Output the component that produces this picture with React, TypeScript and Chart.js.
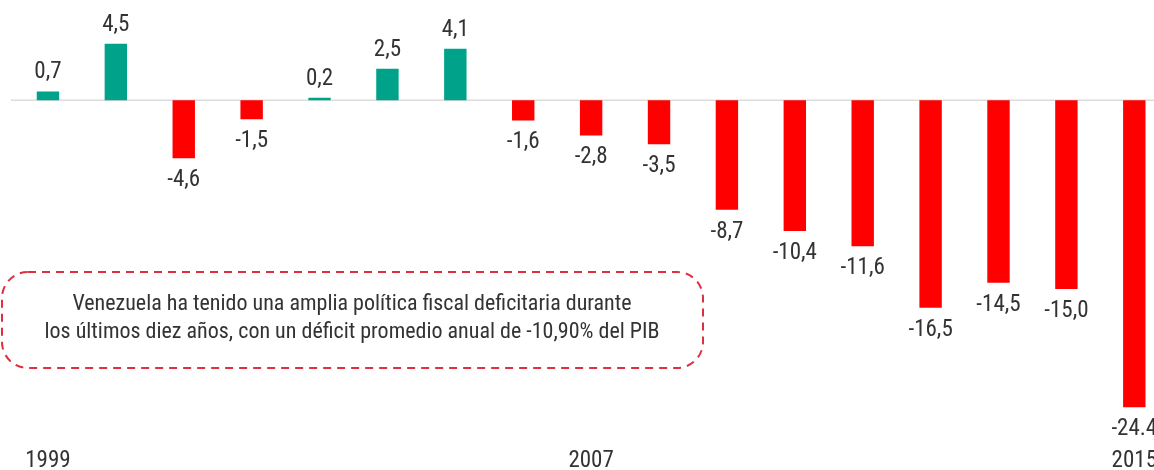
import React, { useEffect, useRef } from "react";
import { Chart, registerables } from "chart.js";

Chart.register(...registerables);

const years = ["1999","2000","2001","2002","2003","2004","2005","2006","2007","2008","2009","2010","2011","2012","2013","2014","2015"];
const shownYears = ["1999", "2007", "2015"];
const balance = [0.7, 4.5, -4.6, -1.5, 0.2, 2.5, 4.1, -1.6, -2.8, -3.5, -8.7, -10.4, -11.6, -16.5, -14.5, -15.0, -24.4];
const valueLabels = ["0,7","4,5","-4,6","-1,5","0,2","2,5","4,1","-1,6","-2,8","-3,5","-8,7","-10,4","-11,6","-16,5","-14,5","-15,0","-24.4"];
const noteLines = [
  "Venezuela ha tenido una amplia política fiscal deficitaria durante",
  "los últimos diez años, con un déficit promedio anual de -10,90% del PIB",
];

const FONT = "'Roboto Condensed', Roboto, sans-serif";
const TEXT = "#333333";
const TEAL = "#00a38a";
const RED = "#ff0000";

const overlay = {
  id: "overlay",
  beforeDatasetsDraw(chart: any) {
    const ctx = chart.ctx;
    const y0 = chart.scales.y.getPixelForValue(0);
    ctx.save();
    ctx.strokeStyle = "#dcdcdc";
    ctx.lineWidth = 1.5;
    ctx.beginPath();
    ctx.moveTo(11, y0);
    ctx.lineTo(chart.width, y0);
    ctx.stroke();
    ctx.restore();
  },
  afterDatasetsDraw(chart: any) {
    const ctx = chart.ctx;
    const meta = chart.getDatasetMeta(0);
    ctx.save();
    ctx.fillStyle = TEXT;
    ctx.font = `23px ${FONT}`;
    ctx.textAlign = "center";
    ctx.textBaseline = "alphabetic";
    meta.data.forEach((bar: any, i: number) => {
      const v = balance[i];
      const y = v >= 0 ? bar.y - 13 : bar.y + 28;
      ctx.fillText(valueLabels[i], bar.x, y);
    });
    // note box
    const x1 = 2, y1 = 272, x2 = 703, y2 = 368;
    ctx.strokeStyle = "#dc3040";
    ctx.lineWidth = 2;
    ctx.setLineDash([8, 6]);
    ctx.beginPath();
    (ctx as any).roundRect(x1, y1, x2 - x1, y2 - y1, 26);
    ctx.stroke();
    ctx.setLineDash([]);
    ctx.fillStyle = TEXT;
    ctx.font = `22px ${FONT}`;
    ctx.textBaseline = "middle";
    ctx.fillText(noteLines[0], 352, 304);
    ctx.fillText(noteLines[1], 352, 332);
    ctx.restore();
  },
};

export default function App() {
  const ref = useRef<HTMLCanvasElement>(null);
  useEffect(() => {
    document.body.style.margin = "0";
    const chart = new Chart(ref.current!, {
      type: "bar",
      data: {
        labels: years,
        datasets: [
          {
            data: balance,
            backgroundColor: balance.map((v) => (v >= 0 ? TEAL : RED)),
            borderWidth: 0,
            barPercentage: 0.33,
            categoryPercentage: 1,
          },
        ],
      },
      options: {
        animation: false,
        responsive: false,
        devicePixelRatio: 1,
        layout: { padding: { left: 14, right: 0, top: 0, bottom: 0 } },
        plugins: { legend: { display: false }, tooltip: { enabled: false } },
        scales: {
          x: {
            grid: { display: false, drawTicks: false },
            border: { display: false },
            afterFit: (scale: any) => {
              scale.height = 40;
            },
            ticks: {
              color: TEXT,
              font: { family: FONT, size: 23 },
              padding: 17,
              maxRotation: 0,
              autoSkip: false,
              callback: (_v: any, i: number) => (shownYears.includes(years[i]) ? years[i] : ""),
            },
          },
          y: {
            display: false,
            min: -26.21,
            max: 7.97,
          },
        },
      },
      plugins: [overlay],
    });
    return () => chart.destroy();
  }, []);
  return (
    <div style={{ position: "absolute", left: 0, top: 0, width: 1154, height: 470, overflow: "hidden", background: "#fff" }}>
      <canvas ref={ref} width={1174} height={470} style={{ width: 1174, height: 470 }} />
    </div>
  );
}
